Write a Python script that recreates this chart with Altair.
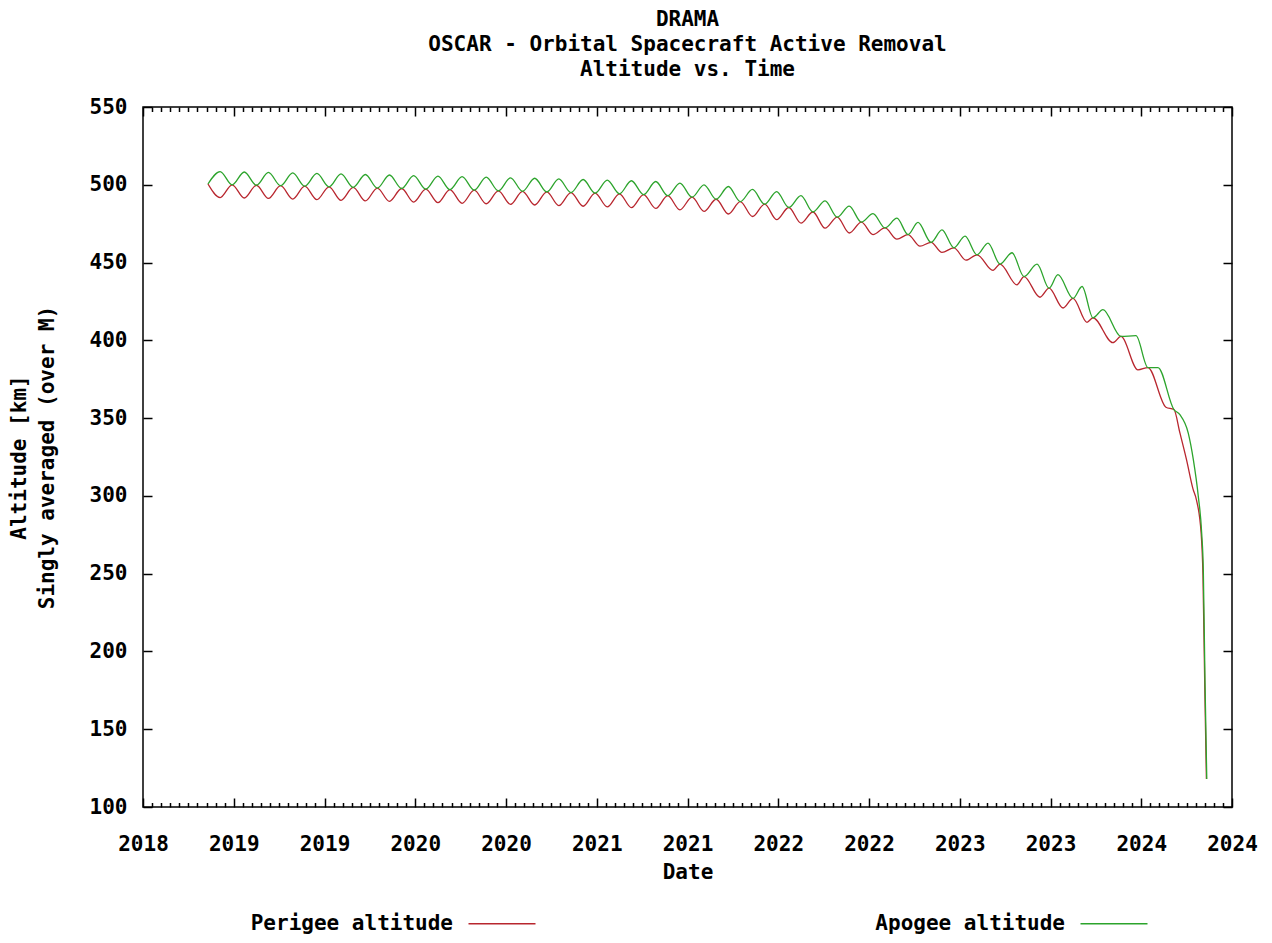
import altair as alt
import pandas as pd

FONT = "DejaVu Sans Mono"

# ---- data (fractional years, km) ----
early_t = [2018.658, 2018.725, 2018.791, 2018.858, 2018.925, 2018.991,
           2019.058, 2019.125, 2019.191, 2019.258, 2019.325, 2019.391, 2019.458, 2019.525,
           2019.591, 2019.658, 2019.725, 2019.791, 2019.858, 2019.925, 2019.991,
           2020.058, 2020.125, 2020.191, 2020.258, 2020.325, 2020.391, 2020.458, 2020.525,
           2020.591, 2020.658, 2020.725, 2020.791, 2020.858, 2020.925, 2020.991,
           2021.058, 2021.125, 2021.191, 2021.258, 2021.325, 2021.391, 2021.458, 2021.525,
           2021.591, 2021.658, 2021.725, 2021.791, 2021.858, 2021.925, 2021.991,
           2022.058, 2022.125, 2022.191, 2022.258]

perigee_early = [500.5, 491.8, 500.0, 491.5, 499.7, 491.2, 499.4, 490.8, 499.1, 490.4,
                 498.7, 490.0, 498.3, 489.6, 497.9, 489.3, 497.6, 488.9, 497.2, 488.5,
                 496.9, 488.1, 496.5, 487.8, 496.1, 487.4, 495.8, 487.0, 495.4, 486.6,
                 495.0, 486.2, 494.6, 485.8, 494.2, 485.3, 493.7, 484.8, 493.0, 483.9,
                 492.0, 482.9, 490.7, 481.2, 489.2, 479.6, 487.5, 477.6, 485.4, 475.4,
                 482.5, 472.1, 479.2, 469.0, 476.0]

apogee_early = [500.5, 508.5, 500.0, 508.2, 499.7, 508.0, 499.4, 507.6, 499.1, 507.3,
                498.7, 507.0, 498.3, 506.6, 497.9, 506.3, 497.6, 505.9, 497.2, 505.6,
                496.9, 505.2, 496.5, 504.9, 496.1, 504.5, 495.8, 504.2, 495.4, 503.8,
                495.0, 503.4, 494.6, 503.0, 494.2, 502.6, 493.7, 502.1, 493.0, 501.1,
                492.0, 500.0, 490.7, 498.9, 489.2, 497.0, 487.5, 495.6, 485.4, 493.0,
                482.5, 489.6, 479.2, 486.3, 476.0]

perigee_late_t = [2022.322, 2022.388, 2022.454, 2022.515, 2022.581, 2022.642, 2022.702,
                  2022.768, 2022.834, 2022.895, 2022.983, 2023.022, 2023.115, 2023.154,
                  2023.242, 2023.292, 2023.369, 2023.424, 2023.501, 2023.534, 2023.644,
                  2023.688, 2023.782, 2023.837, 2023.936, 2023.980, 2024.013, 2024.049,
                  2024.085, 2024.104, 2024.130, 2024.140, 2024.150, 2024.159]
perigee_late = [468.0, 472.3, 465.0, 468.0, 460.5, 463.0, 456.5,
                459.5, 451.5, 455.0, 445.0, 449.0, 435.7, 441.0,
                427.7, 433.5, 420.8, 427.0, 411.6, 414.5, 398.5,
                402.5, 381.0, 382.5, 357.0, 355.5, 340.5, 323.5,
                304.5, 297.5, 276.0, 249.0, 177.0, 118.0]

apogee_late_t = [2022.322, 2022.388, 2022.454, 2022.515, 2022.570, 2022.642, 2022.702,
                 2022.768, 2022.829, 2022.895, 2022.956, 2023.022, 2023.088, 2023.154,
                 2023.226, 2023.292, 2023.341, 2023.424, 2023.474, 2023.534, 2023.589,
                 2023.688, 2023.771, 2023.837, 2023.892, 2023.980, 2024.013, 2024.059,
                 2024.087, 2024.114, 2024.133, 2024.142, 2024.151, 2024.161]
apogee_late = [481.5, 472.3, 478.5, 468.0, 475.8, 463.0, 471.0,
               459.5, 467.0, 455.0, 462.5, 449.0, 456.3, 441.0,
               449.0, 433.5, 442.2, 427.0, 434.6, 414.5, 419.7,
               402.5, 403.0, 382.5, 382.5, 355.5, 352.2, 340.4,
               323.3, 300.0, 276.0, 252.0, 182.0, 118.0]

series_names = ["Perigee altitude", "Apogee altitude"]
series_colors = ["#b8262e", "#2ca42c"]

title_lines = ["DRAMA", "OSCAR - Orbital Spacecraft Active Removal", "Altitude vs. Time"]
y_title_lines = ["Altitude [km]", "Singly averaged (over M)"]
x_title = "Date"

x_domain = [2018.3, 2024.3]
x_major = [2018.3, 2018.8, 2019.3, 2019.8, 2020.3, 2020.8, 2021.3,
           2021.8, 2022.3, 2022.8, 2023.3, 2023.8, 2024.3]
y_domain = [100, 550]
y_major = [100, 150, 200, 250, 300, 350, 400, 450, 500, 550]
x_minor = [round(2018.3 + 0.05 * i, 2) for i in range(121) if i % 10]

# ---- tables ----
per = pd.DataFrame({"t": early_t + perigee_late_t, "alt": perigee_early + perigee_late,
                    "series": series_names[0]})
apo = pd.DataFrame({"t": early_t + apogee_late_t, "alt": apogee_early + apogee_late,
                    "series": series_names[1]})
df = pd.concat([per, apo], ignore_index=True)
frame = pd.DataFrame({"t": x_domain, "alt": y_domain})

W, H = 1089, 700
FS = 21

xs = alt.Scale(domain=x_domain, nice=False, zero=False)
ys = alt.Scale(domain=y_domain, nice=False, zero=False)

txt = dict(labelFont=FONT, labelFontSize=FS, labelFontWeight="bold", labelColor="black",
           titleFont=FONT, titleFontSize=FS, titleFontWeight="bold", titleColor="black")

# gnuplot-style key: label first, line sample after it (sample drawn as a symbol path
# placed to the right of the right-aligned label)
legend = alt.Legend(orient="none", legendX=39, legendY=806, direction="horizontal",
                    columns=2, title=None, symbolType="M276,0H343", symbolSize=4,
                    symbolStrokeWidth=1.5, labelFont=FONT,
                    labelFontSize=FS, labelFontWeight="bold", labelColor="black",
                    labelAlign="right", labelOffset=250, labelLimit=0,
                    columnPadding=255, padding=0)
color = alt.Color("series:N", scale=alt.Scale(domain=series_names, range=series_colors),
                  legend=legend)

x_lab = alt.Axis(values=x_major, format=".0f", ticks=False, domain=False, grid=False,
                 labelPadding=26, labelFlush=False, labelOverlap=False,
                 title=x_title, titleX=W / 2, titleY=65, titleAlign="center",
                 titleBaseline="middle", **txt)
y_lab = alt.Axis(values=y_major, ticks=False, domain=False, grid=False,
                 labelPadding=16, labelFlush=False, labelOverlap=False,
                 title=y_title_lines, titleX=-124, titleY=H / 2, titleAngle=270,
                 titleAlign="center", titleBaseline="middle", titleLineHeight=28, **txt)

red = alt.Chart(df).transform_filter(alt.datum.series == series_names[0]).mark_line(
    strokeWidth=1.3, interpolate="monotone").encode(
    x=alt.X("t:Q", scale=xs, axis=x_lab),
    y=alt.Y("alt:Q", scale=ys, axis=y_lab),
    color=color)

green = alt.Chart(df).transform_filter(alt.datum.series == series_names[1]).mark_line(
    strokeWidth=1.3, interpolate="monotone").encode(
    x=alt.X("t:Q", scale=xs, axis=None),
    y=alt.Y("alt:Q", scale=ys, axis=None),
    color=color)


def tick_layer(x_orient, x_vals, x_size, y_orient=None):
    xa = alt.Axis(orient=x_orient, offset=-H, values=x_vals, labels=False, domain=False,
                  grid=False, ticks=True, tickSize=x_size, tickWidth=1.5,
                  tickColor="black", title=None)
    if y_orient:
        ya = alt.Axis(orient=y_orient, offset=-W, values=y_major, labels=False,
                      domain=False, grid=False, ticks=True, tickSize=9, tickWidth=1.5,
                      tickColor="black", title=None)
    else:
        ya = None
    return alt.Chart(frame).mark_point(opacity=0).encode(
        x=alt.X("t:Q", scale=xs, axis=xa),
        y=alt.Y("alt:Q", scale=ys, axis=ya))


layers = [red, green,
          tick_layer("top", x_major, 9, "right"),
          tick_layer("bottom", x_major, 9, "left"),
          tick_layer("top", x_minor, 4.5),
          tick_layer("bottom", x_minor, 4.5)]

chart = alt.layer(*layers).resolve_axis(x="independent", y="independent").properties(
    width=W, height=H,
    title=alt.Title(text=title_lines, font=FONT, fontSize=FS, fontWeight="bold",
                    color="black", lineHeight=25, offset=16, anchor="middle"),
    autosize=alt.AutoSizeParams(type="none"),
    padding={"left": 135, "top": 99, "right": 30, "bottom": 135},
    background="white",
).configure_view(stroke="black", strokeWidth=1.5)

chart.save("out.html", embed_options={"renderer": "svg", "actions": False})
